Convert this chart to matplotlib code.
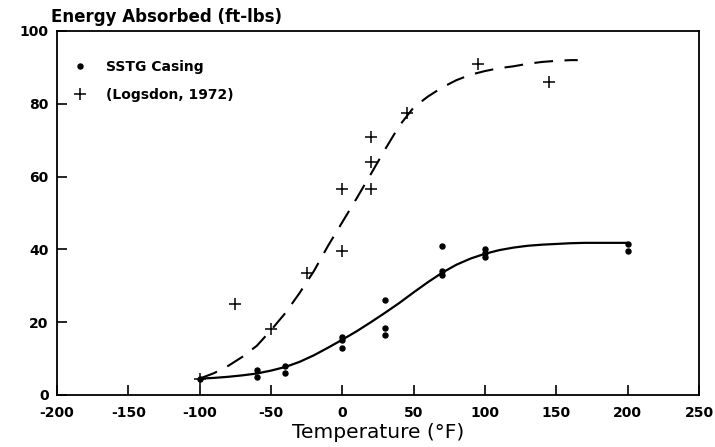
import matplotlib
matplotlib.use("Agg")
import matplotlib.pyplot as plt
from matplotlib.lines import Line2D

# ---- data ----
sstg_temp = [-100, -60, -60, -40, -40, 0, 0, 0, 30, 30, 30, 70, 70, 70, 100, 100, 100, 200, 200]
sstg_energy = [4.5, 7, 5, 8, 6, 16, 15, 13, 26, 18.5, 16.5, 41, 34, 33, 40, 39, 38, 41.5, 39.5]

logs_temp = [-100, -75, -50, -25, 0, 0, 20, 20, 20, 45, 95, 145]
logs_energy = [4.5, 25, 18, 33.5, 39.5, 56.5, 56.5, 64, 71, 77.5, 91, 86]

sstg_fit_t = [-100, -90, -80, -70, -60, -50, -40, -30, -20, -10, 0, 10, 20, 30, 40, 50,
              60, 70, 80, 90, 100, 110, 120, 130, 140, 150, 160, 170, 180, 190, 200]
sstg_fit_e = [4.5, 4.7, 5.0, 5.4, 5.9, 6.7, 7.7, 9.1, 10.9, 13.0, 15.2, 17.5, 20.0, 22.6,
              25.3, 28.2, 31.0, 33.6, 35.8, 37.5, 38.8, 39.8, 40.5, 41.0, 41.3, 41.5,
              41.7, 41.8, 41.8, 41.8, 41.8]

logs_fit_t = [-100, -90, -80, -70, -60, -50, -40, -30, -20, -10, 0, 10, 20, 30, 40,
              50, 60, 70, 80, 90, 100, 110, 120, 130, 140, 150, 160, 165]
logs_fit_e = [4.5, 6, 8, 10.5, 13.5, 17.8, 22.5, 28, 34, 41, 47.5, 54, 60.7, 67.5, 74,
              79, 82, 84.5, 86.5, 88, 89, 89.8, 90.3, 91, 91.5, 91.8, 92, 92]

x_ticks = [-200, -150, -100, -50, 0, 50, 100, 150, 200, 250]
y_ticks = [0, 20, 40, 60, 80, 100]

fig = plt.figure(figsize=(7.15, 4.47), dpi=100)
ax = fig.add_axes([57 / 715, 1 - 395 / 447, 642 / 715, 364 / 447])

ax.plot(sstg_fit_t, sstg_fit_e, color="black", lw=1.6, solid_capstyle="round",
        solid_joinstyle="round")
ax.plot(logs_fit_t, logs_fit_e, color="black", lw=1.5, dashes=(9, 5.5))
ax.plot(sstg_temp, sstg_energy, ls="none", marker="o", ms=3.6, color="black")
ax.plot(logs_temp, logs_energy, ls="none", marker="+", ms=9, mew=1.1, color="black")

ax.set_xlim(-200, 250)
ax.set_ylim(0, 100)
ax.set_xticks(x_ticks)
ax.set_yticks(y_ticks)
ax.set_xticklabels([str(v) for v in x_ticks], fontweight="bold", fontsize=10)
ax.set_yticklabels([str(v) for v in y_ticks], fontweight="bold", fontsize=10)
ax.tick_params(axis="both", direction="in", length=7, width=1.2, colors="black")
ax.tick_params(axis="x", pad=8)
ax.tick_params(axis="y", pad=6)
for s in ax.spines.values():
    s.set_linewidth(1.3)

ax.set_xlabel("Temperature (°F)", fontsize=14.5, labelpad=2)
fig.text(51 / 715, 1 - 17 / 447, "Energy Absorbed (ft-lbs)", fontsize=12,
         fontweight="bold", ha="left", va="center")

handles = [
    Line2D([], [], ls="none", marker="o", ms=3.6, color="black"),
    Line2D([], [], ls="none", marker="+", ms=9, mew=1.1, color="black"),
]
ax.legend(handles, ["SSTG Casing", "(Logsdon, 1972)"], loc="upper left",
          bbox_to_anchor=(0.025, 0.92), frameon=False, borderpad=0,
          borderaxespad=0, handlelength=1.0, handletextpad=1.4,
          labelspacing=1.0, prop={"weight": "bold", "size": 10})

fig.savefig("out.png", dpi=100)
